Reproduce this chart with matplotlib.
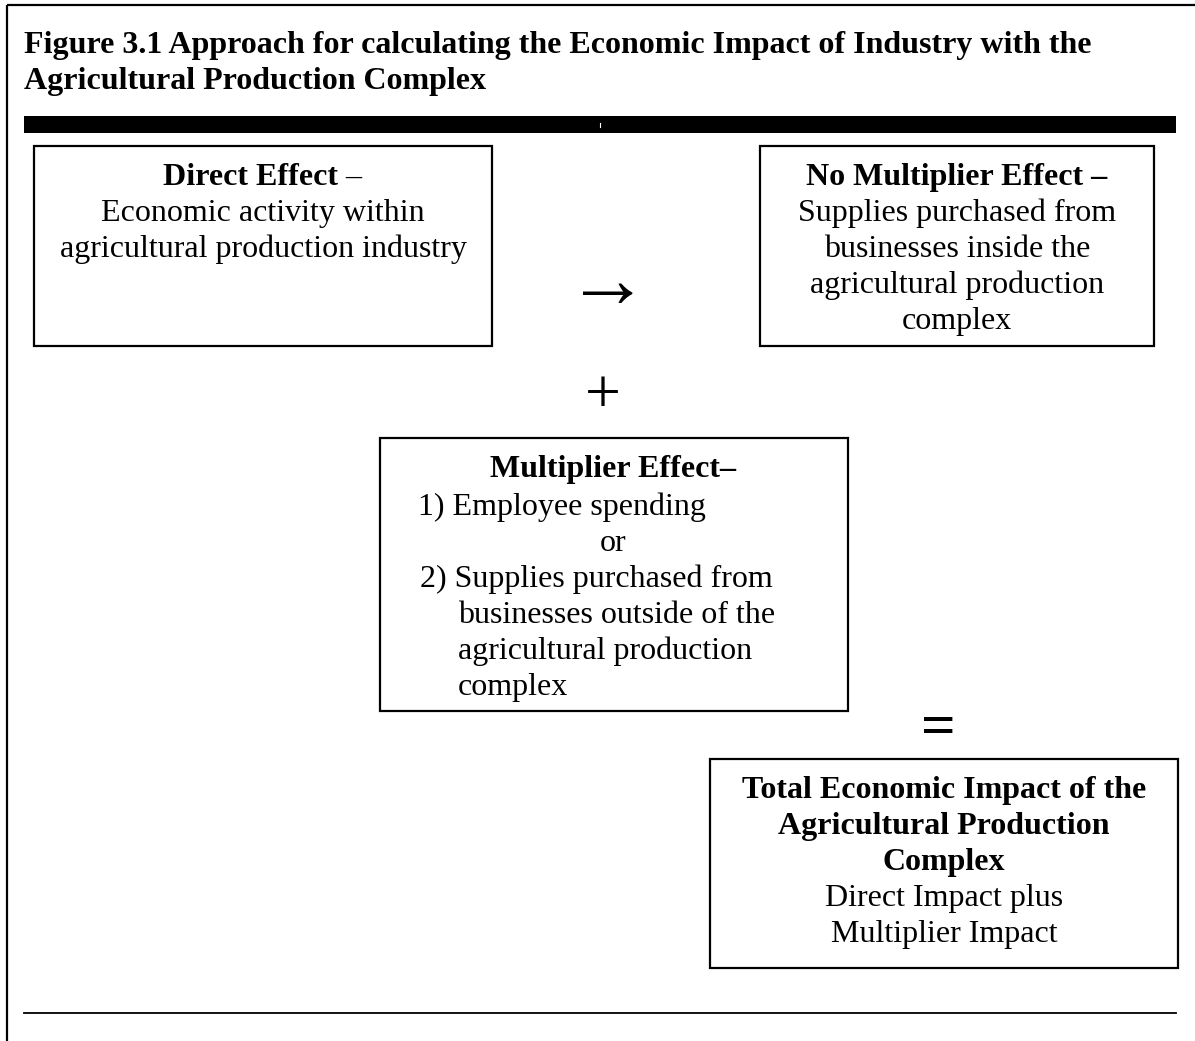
import matplotlib
matplotlib.use('Agg')
from matplotlib import pyplot as plt
from matplotlib.patches import Rectangle

plt.rcParams['font.family'] = ['Liberation Serif', 'DejaVu Serif']

# texts of the diagram
title_lines = [
    'Figure 3.1 Approach for calculating the Economic Impact of Industry with the',
    'Agricultural Production Complex',
]
direct_head = 'Direct Effect'
direct_body = ['Economic activity within', 'agricultural production industry']
nomult_head = 'No Multiplier Effect \u2013'
nomult_body = ['Supplies purchased from', 'businesses inside the',
               'agricultural production', 'complex']
mult_head = 'Multiplier Effect\u2013'
mult_items = ['1) Employee spending', 'or', '2) Supplies purchased from',
              'businesses outside of the', 'agricultural production', 'complex']
total_head = ['Total Economic Impact of the', 'Agricultural Production', 'Complex']
total_body = ['Direct Impact plus', 'Multiplier Impact']

W, H = 1195, 1041
FS = 23
LH = 36

fig = plt.figure(figsize=(W / 100, H / 100), dpi=100)
ax = fig.add_axes([0, 0, 1, 1])
ax.set_xlim(0, W)
ax.set_ylim(H, 0)
ax.axis('off')


def box(x0, y0, x1, y1):
    r = Rectangle((x0, y0), x1 - x0, y1 - y0, fill=False, lw=1.6, ec='black')
    ax.add_patch(r)
    # invisible clipping rectangle for text that overflows
    c = Rectangle((x0, y0), x1 - x0, y1 - y0, fill=False, lw=0, transform=ax.transData)
    c.set_visible(False)
    ax.add_patch(c)
    return c


def put(x, y, s, clip=None, bold=False, ha='center'):
    t = ax.text(x, y, s, fontsize=FS, ha=ha, va='baseline',
                fontweight='bold' if bold else 'normal')
    if clip is not None:
        t.set_clip_path(clip)
    return t


# outer frame (top and left only)
ax.plot([7, 7], [5, H], color='black', lw=1.6, solid_capstyle='butt')
ax.plot([7, W], [5, 5], color='black', lw=1.6, solid_capstyle='butt')

# title
for i, line in enumerate(title_lines):
    put(24, 53 + i * LH, line, bold=True, ha='left')

# thick bar, with the small light fleck in it
ax.add_patch(Rectangle((24, 116), 1176 - 24, 17, color='black', lw=0))
ax.plot([600, 600], [123, 127], color='white', lw=0.8)

# direct effect box
box(34, 146, 492, 346)
t = put(163, 185, direct_head, bold=True, ha='left')
ax.annotate(' \u2013', xy=(1, 0), xycoords=t, fontsize=FS, ha='left', va='bottom')
for i, line in enumerate(direct_body):
    put(263, 221 + i * LH, line)

# no multiplier box
c = box(760, 146, 1154, 346)
put(957, 185, nomult_head, bold=True)
for i, line in enumerate(nomult_body):
    put(957, 221 + i * LH, line, clip=c)

# operators
ax.text(608, 287, '\u2192', fontsize=60, ha='center', va='center')
ax.text(603, 398, '+', fontsize=46, ha='center', va='center')
ax.text(938, 730, '=', fontsize=44, ha='center', va='center', fontweight='bold')

# multiplier box
c = box(380, 438, 848, 711)
put(613, 477, mult_head, bold=True)
xs = [418, 613, 420, 458, 458, 458]
has = ['left', 'center', 'left', 'left', 'left', 'left']
for i, line in enumerate(mult_items):
    put(xs[i], 515 + i * LH, line, clip=c, ha=has[i])

# total box
box(710, 759, 1178, 968)
for i, line in enumerate(total_head):
    put(944, 798 + i * LH, line, bold=True)
for i, line in enumerate(total_body):
    put(944, 798 + (len(total_head) + i) * LH, line)

# bottom rule
ax.plot([24, 1176], [1013, 1013], color='black', lw=1.3)

fig.savefig('out.png', dpi=100)
